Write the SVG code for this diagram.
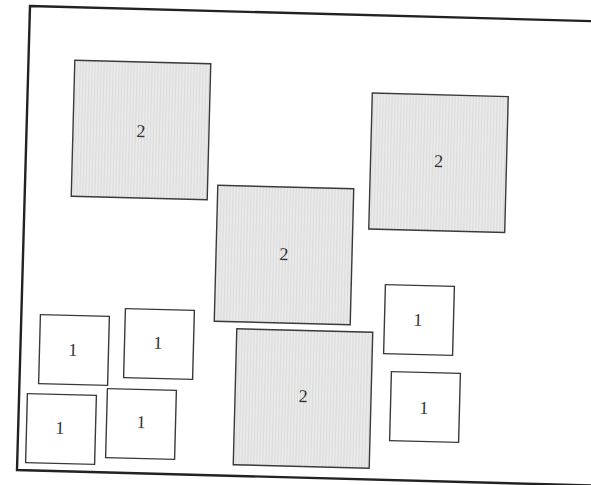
<svg xmlns="http://www.w3.org/2000/svg" width="591" height="485" viewBox="0 0 591 485">
<defs>
<pattern id="tex" width="3" height="4" patternUnits="userSpaceOnUse">
<rect width="3" height="4" fill="#e9e9e9"/>
<rect width="1" height="4" fill="#dcdcdc"/>
</pattern>
<style>
.big{fill:url(#tex);stroke:#3a3a3a;stroke-width:1.4}
.small{fill:#ffffff;stroke:#3a3a3a;stroke-width:1.4}
.lbl{font-family:"Liberation Serif","DejaVu Serif",serif;font-size:18px;fill:#333;text-anchor:middle;dominant-baseline:central}
</style>
</defs>
<rect width="591" height="485" fill="#ffffff"/>
<polygon id="frame" points="30,6 625,22 612,486 17,470" fill="none" stroke="#222" stroke-width="2.4"/>
<g id="connectors"/>
<g id="nodeA" transform="rotate(1.5 141 130)"><rect class="big" x="73" y="62" width="136" height="136"/><text class="lbl" x="141" y="131">2</text></g>
<g id="nodeB" transform="rotate(1.5 438.5 162.8)"><rect class="big" x="370.5" y="94.8" width="136" height="136"/><text class="lbl" x="438.5" y="161">2</text></g>
<g id="nodeC" transform="rotate(1.5 284 255)"><rect class="big" x="216" y="187" width="136" height="136"/><text class="lbl" x="284" y="254">2</text></g>
<g id="nodeD" transform="rotate(1.5 303 398.5)"><rect class="big" x="235" y="330.5" width="136" height="136"/><text class="lbl" x="303" y="396">2</text></g>
<g id="node1a" transform="rotate(1.5 74 350)"><rect class="small" x="39.5" y="315.5" width="69" height="69"/><text class="lbl" x="73" y="350">1</text></g>
<g id="node1b" transform="rotate(1.5 159 344)"><rect class="small" x="124.5" y="309.5" width="69" height="69"/><text class="lbl" x="158" y="343">1</text></g>
<g id="node1c" transform="rotate(1.5 61 429)"><rect class="small" x="26.5" y="394.5" width="69" height="69"/><text class="lbl" x="60" y="428">1</text></g>
<g id="node1d" transform="rotate(1.5 141 424)"><rect class="small" x="106.5" y="389.5" width="69" height="69"/><text class="lbl" x="141" y="422">1</text></g>
<g id="node1e" transform="rotate(1.5 419 320)"><rect class="small" x="384.5" y="285.5" width="69" height="69"/><text class="lbl" x="418" y="320">1</text></g>
<g id="node1f" transform="rotate(1.5 425 407)"><rect class="small" x="390.5" y="372.5" width="69" height="69"/><text class="lbl" x="424" y="408">1</text></g>
</svg>
